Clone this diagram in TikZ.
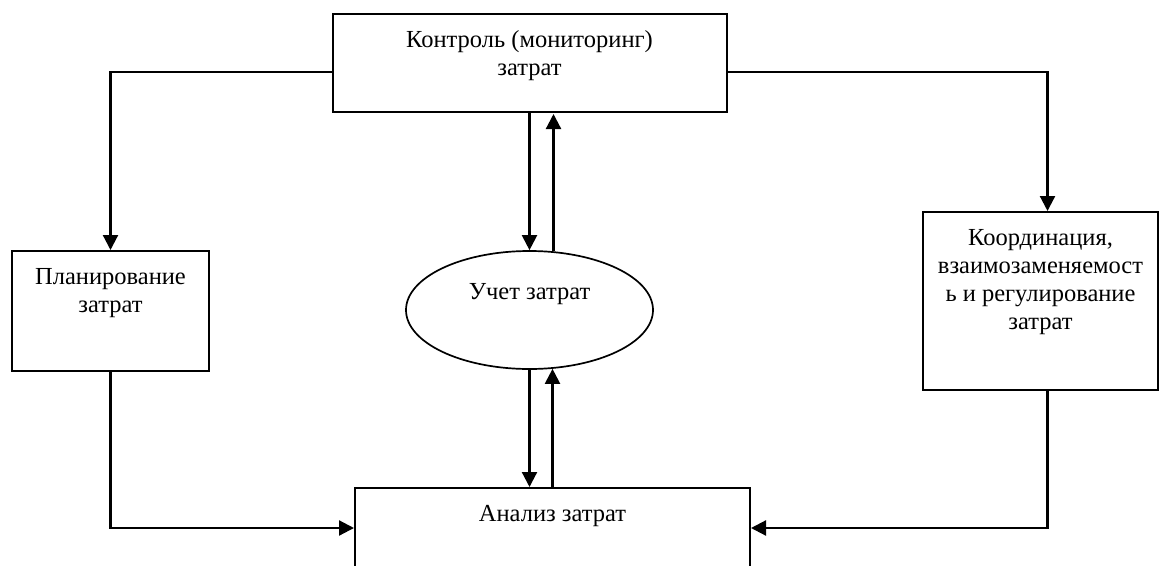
\documentclass[tikz,border=0pt]{standalone}
\usepackage{fontspec}
\setmainfont{Liberation Serif}
\usetikzlibrary{arrows.meta,shapes.geometric}
\tikzset{
  box/.style={draw, line width=2pt, inner sep=0pt, font=\fontsize{24.5}{28}\selectfont},
  oval/.style={draw, ellipse, line width=1.7pt, minimum width=247pt, minimum height=118pt, text depth=37pt, font=\fontsize{24.5}{28}\selectfont},
  conn/.style={line width=2.2pt, -{Triangle[width=15pt,length=15pt]}},
}
\newcommand{\boxtext}[4]{\parbox[c][#2][t]{#1}{\centering\vspace*{#3}#4\par}}
\begin{document}
\begin{tikzpicture}[x=1pt,y=-1pt]
\useasboundingbox (0,0) rectangle (1161,565);
\clip (0,0) rectangle (1161,565);
\node[box] (ctrl) at (529.5,63) {\boxtext{394pt}{98pt}{16pt}{Контроль (мониторинг)\\затрат}};
\node[box] (plan) at (110.5,311) {\boxtext{197pt}{120pt}{17pt}{Планирование\\затрат}};
\node[box] (coord) at (1040.5,301) {\boxtext{235pt}{178pt}{17.5pt}{Координация,\\взаимозаменяемост\\ь и регулирование\\затрат}};
\node[box] (anal) at (552.5,528) {\boxtext{395pt}{80pt}{17pt}{Анализ затрат}};
\node[oval] (uchet) at (529.5,310) {Учет затрат};
% top box to side boxes
\draw[conn] ([yshift=-9pt]ctrl.west) -| (plan.north);
\draw[conn] ([yshift=-9pt]ctrl.east) -| ([xshift=7pt]coord.north);
% side boxes to analysis
\draw[conn] (plan.south) |- (anal.west);
\draw[conn] ([xshift=7pt]coord.south) |- (anal.east);
% top box <-> uchet
\draw[conn] (ctrl.south) -- (uchet.north);
\draw[conn] ([xshift=24pt,yshift=-1pt]uchet.north) -- ([xshift=24pt,yshift=-1pt]uchet.north |- ctrl.south);
% uchet <-> analysis
\draw[conn] (uchet.south) -- (uchet.south |- anal.north);
\draw[conn] (anal.north) -- ([yshift=1pt]anal.north |- uchet.south);
\end{tikzpicture}
\end{document}
